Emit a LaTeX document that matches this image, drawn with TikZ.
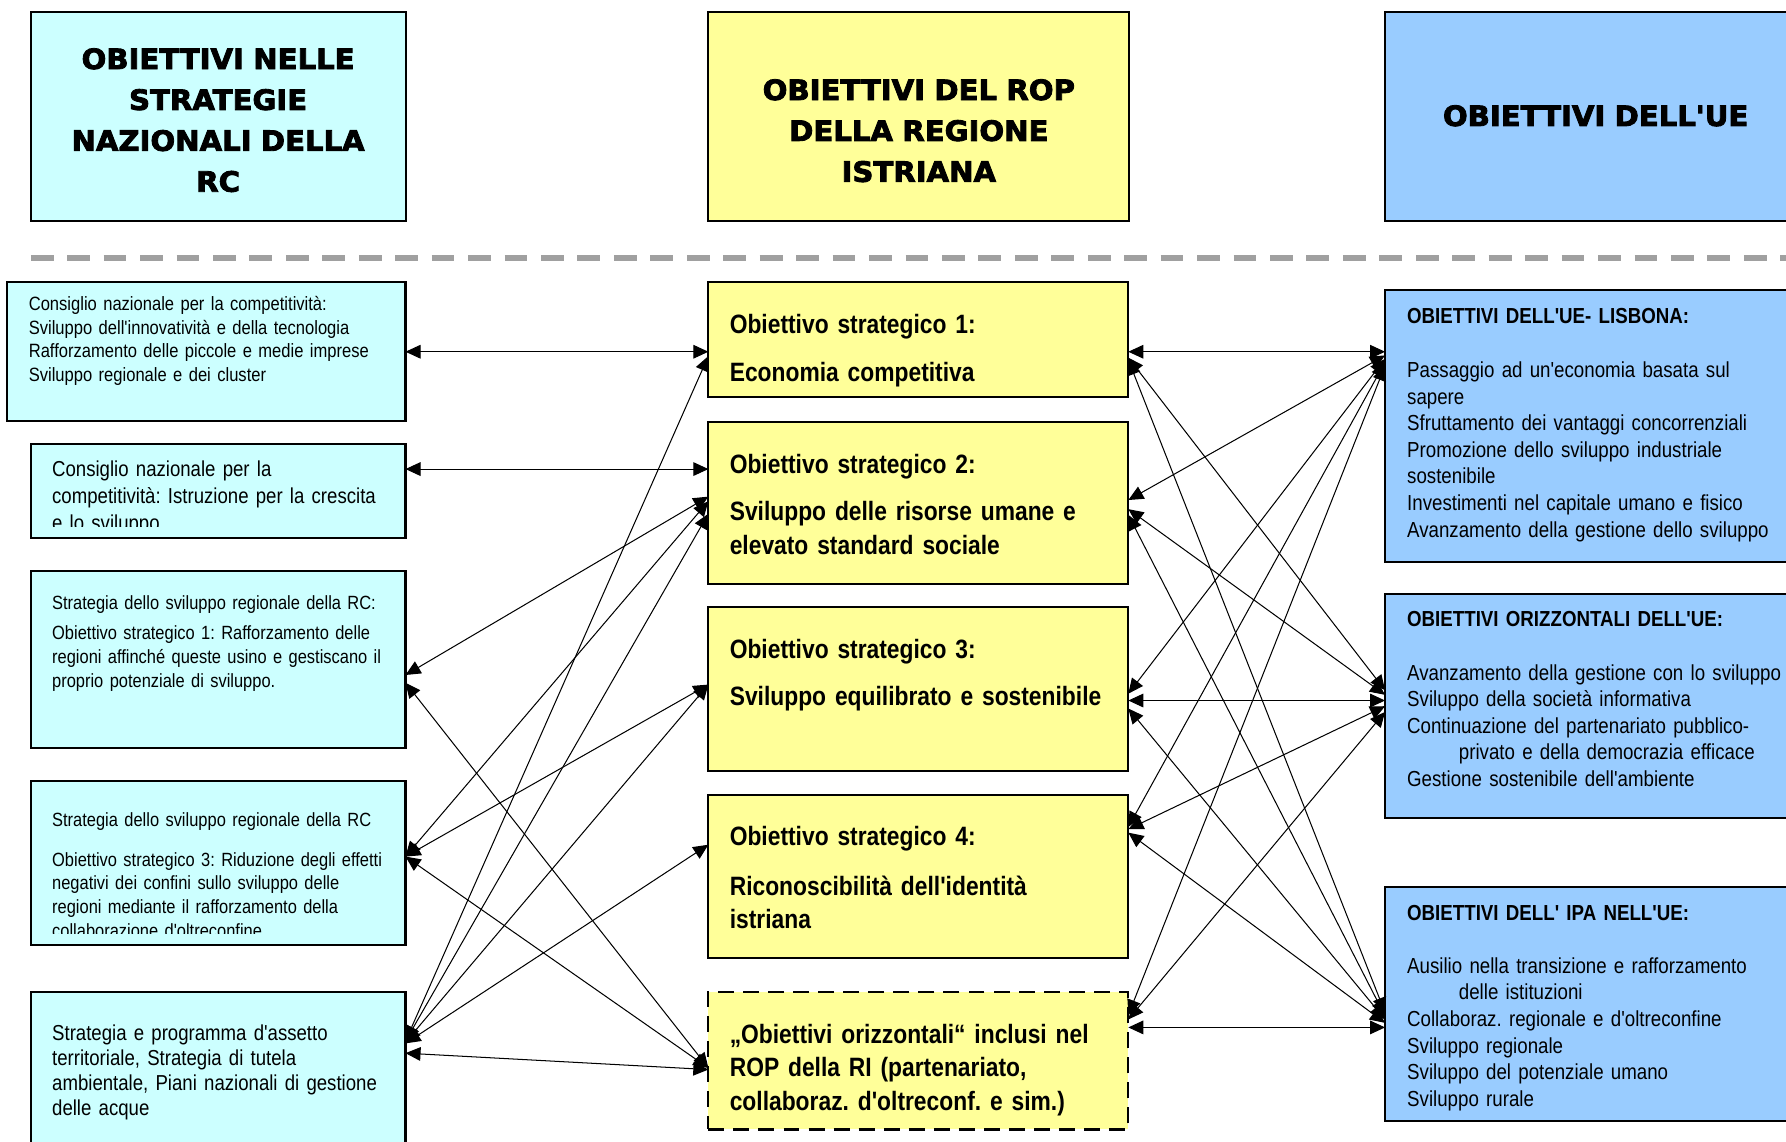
\documentclass[tikz,border=0pt]{standalone}
\usepackage{fontspec}
\usetikzlibrary{arrows.meta,fit}
\setmainfont{Liberation Sans}
\newfontfamily\hdrfont{DejaVu Sans Bold}[FakeBold=3,FakeStretch=1.04,Ligatures=TeXOff]
\newfontfamily\bodyfont{Liberation Sans}[FakeStretch=0.86,Ligatures=TeXOff]
\newfontfamily\bodybold{Liberation Sans Bold}[FakeStretch=0.86,Ligatures=TeXOff]
\definecolor{cyanfill}{HTML}{CCFFFF}
\definecolor{yellowfill}{HTML}{FFFF99}
\definecolor{bluefill}{HTML}{99CCFF}
\definecolor{rulegrey}{HTML}{A0A0A0}
\frenchspacing

\begin{document}
\begin{tikzpicture}[x=0.5pt,y=-0.5pt,
  frame/.style={draw=black,line width=0.9pt,inner sep=0pt,outer sep=0pt},
  cyanbox/.style={frame,fill=cyanfill},
  yellowbox/.style={frame,fill=yellowfill},
  bluebox/.style={frame,fill=bluefill},
  dashbox/.style={frame,fill=yellowfill,dash pattern=on 7pt off 4pt},
  hdrtext/.style={anchor=base,align=center,text width=175pt,inner sep=0pt,
    font=\fontsize{12.3}{17.95}\hdrfont},
  txt/.style={anchor=base west,align=left,inner sep=0pt,text width=#1},
  txt/.default=165pt,
  conn/.style={line width=0.45pt,
    {Triangle[length=6.6pt,width=6pt]}-{Triangle[length=6.6pt,width=6pt]}},
]
\useasboundingbox (0,0) rectangle (1568,1002);
\clip (0,0) rectangle (1568,1002);

% column headings
\node[cyanbox,fit={(27,10.2) (356.2,193.8)}] (H1) {};
\node[yellowbox,fit={(621.9,10.2) (991,193.8)}] (H2) {};
\node[bluebox,fit={(1216,10.2) (1610,193.8)}] (H3) {};
\node[hdrtext] (H1t) at (191.5,60.6) {OBIETTIVI NELLE\\STRATEGIE\\NAZIONALI DELLA\\RC};
\node[hdrtext] (H2t) at (806.7,87.8) {OBIETTIVI DEL ROP\\DELLA REGIONE\\ISTRIANA};
\node[hdrtext] (H3t) at (1400.9,110.6) {OBIETTIVI DELL'UE};

% separator
\coordinate (sepA) at (27,226.4);
\coordinate (sepB) at (1610,226.4);
\draw[rulegrey,line width=2.5pt,dash pattern=on 10pt off 6pt] (sepA) -- (sepB);

% national strategies
\node[cyanbox,fit={(6.5,247.5) (356,370)}] (L1) {};
\node[cyanbox,fit={(27,390) (356,472)}] (L2) {};
\node[cyanbox,fit={(27,501) (356,657)}] (L3) {};
\node[cyanbox,fit={(27,686) (356,830)}] (L4) {};
\node[cyanbox,fit={(27,871) (356,1030)}] (L5) {};

\node[txt,font=\fontsize{8.45}{10.3}\bodyfont] (L1t) at (24.9,272.8)
  {Consiglio nazionale per la competitività:\\Sviluppo dell'innovatività e della tecnologia\\Rafforzamento delle piccole e medie imprese\\Sviluppo regionale e dei cluster};
\begin{scope}
  \clip (27,390) rectangle (356,462.4);
  \node[txt,font=\fontsize{9.5}{11.7}\bodyfont] (L2t) at (45.4,418.5)
    {Consiglio nazionale per la\\competitività: Istruzione per la crescita\\e lo sviluppo};
\end{scope}
\node[txt,font=\fontsize{8.4}{10.5}\bodyfont] (L3t) at (45.4,535)
  {Strategia dello sviluppo regionale della RC:\\[2.65pt]Obiettivo strategico 1: Rafforzamento delle\\regioni affinché queste usino e gestiscano il\\proprio potenziale di sviluppo.};
\begin{scope}
  \clip (27,686) rectangle (356,819.5);
  \node[txt,font=\fontsize{8.4}{10.5}\bodyfont] (L4t) at (45.4,725.8)
    {Strategia dello sviluppo regionale della RC\\[6.75pt]Obiettivo strategico 3: Riduzione degli effetti\\negativi dei confini sullo sviluppo delle\\regioni mediante il rafforzamento della\\collaborazione d'oltreconfine};
\end{scope}
\node[txt,font=\fontsize{9.5}{10.95}\bodyfont] (L5t) at (45.4,913.7)
  {Strategia e programma d'assetto\\territoriale, Strategia di tutela\\ambientale, Piani nazionali di gestione\\delle acque};

% regional operational programme
\node[yellowbox,fit={(621.9,247.3) (990.6,348.8)}] (M1) {};
\node[yellowbox,fit={(621.9,370.2) (990.6,512.7)}] (M2) {};
\node[yellowbox,fit={(621.9,532.5) (990.6,677)}] (M3) {};
\node[yellowbox,fit={(621.9,697.8) (990.6,841)}] (M4) {};
\node[dashbox,fit={(621.9,870.6) (990.6,991.6)}] (M5) {};

\tikzset{midtext/.style={txt=175pt,font=\fontsize{11.65}{14.65}\bodybold}}
\node[midtext] (M1t) at (640.3,292.6) {Obiettivo strategico 1:\\[6.35pt]Economia competitiva};
\node[midtext] (M2t) at (640.3,415.6) {Obiettivo strategico 2:\\[6.1pt]Sviluppo delle risorse umane e\\elevato standard sociale};
\node[midtext] (M3t) at (640.3,578.2) {Obiettivo strategico 3:\\[6.15pt]Sviluppo equilibrato e sostenibile};
\node[midtext] (M4t) at (640.3,742.6) {Obiettivo strategico 4:\\[6.95pt]Riconoscibilità dell'identità\\istriana};
\node[midtext] (M5t) at (640.3,916) {„Obiettivi orizzontali“ inclusi nel\\ROP della RI (partenariato,\\collaboraz. d'oltreconf. e sim.)};

% EU objectives
\node[bluebox,fit={(1216,254.6) (1610,493.1)}] (R1) {};
\node[bluebox,fit={(1216,521.5) (1610,718)}] (R2) {};
\node[bluebox,fit={(1216,778.5) (1610,984)}] (R3) {};

\tikzset{eutext/.style={txt=180pt,font=\fontsize{9.55}{11.7}\bodyfont}}
\node[eutext] (R1t) at (1235,283.9)
  {{\bodybold OBIETTIVI DELL'UE- LISBONA:}\\[12pt]Passaggio ad un'economia basata sul\\sapere\\Sfruttamento dei vantaggi concorrenziali\\Promozione dello sviluppo industriale\\sostenibile\\Investimenti nel capitale umano e fisico\\Avanzamento della gestione dello sviluppo};
\node[eutext] (R2t) at (1235,550.2)
  {{\bodybold OBIETTIVI ORIZZONTALI DELL'UE:}\\[11.7pt]Avanzamento della gestione con lo sviluppo\\Sviluppo della società informativa\\Continuazione del partenariato pubblico-\\\hspace*{22.7pt}privato e della democrazia efficace\\Gestione sostenibile dell'ambiente};
\node[eutext] (R3t) at (1235,807.7)
  {{\bodybold OBIETTIVI DELL' IPA NELL'UE:}\\[11.7pt]Ausilio nella transizione e rafforzamento\\\hspace*{22.7pt}delle istituzioni\\Collaboraz. regionale e d'oltreconfine\\Sviluppo regionale\\Sviluppo del potenziale umano\\Sviluppo rurale};

% links: national strategies -- ROP objectives
\draw[conn] (L1.east |- 0,308.8) -- (M1.west |- 0,308.8);
\draw[conn] (L2.east |- 0,411.8) -- (M2.west |- 0,411.8);
\draw[conn] (L3.east |- 0,592.6) -- (M2.west |- 0,436);
\draw[conn] (L3.east |- 0,599.4) -- (M5.west |- 0,937.6);
\draw[conn] (L4.east |- 0,752) -- (M2.west |- 0,440);
\draw[conn] (L4.east |- 0,752) -- (M3.west |- 0,601);
\draw[conn] (L4.east |- 0,752) -- (M5.west |- 0,937.6);
\draw[conn] (L5.east |- 0,914) -- (M1.west |- 0,312.6);
\draw[conn] (L5.east |- 0,914) -- (M2.west |- 0,451);
\draw[conn] (L5.east |- 0,915) -- (M3.west |- 0,601);
\draw[conn] (L5.east |- 0,916) -- (M4.west |- 0,741.6);
\draw[conn] (L5.east |- 0,924.6) -- (M5.west |- 0,939);

% links: ROP objectives -- EU objectives
\draw[conn] (M1.east |- 0,308.8) -- (R1.west |- 0,308.8);
\draw[conn] (M1.east |- 0,314) -- (R2.west |- 0,606);
\draw[conn] (M1.east |- 0,316) -- (R3.west |- 0,889);
\draw[conn] (M2.east |- 0,439) -- (R1.west |- 0,312);
\draw[conn] (M2.east |- 0,447) -- (R2.west |- 0,610);
\draw[conn] (M2.east |- 0,452) -- (R3.west |- 0,892);
\draw[conn] (M3.east |- 0,609) -- (R1.west |- 0,315);
\draw[conn] (M3.east |- 0,615) -- (R2.west |- 0,615);
\draw[conn] (M3.east |- 0,622) -- (R3.west |- 0,895);
\draw[conn] (M4.east |- 0,726) -- (R1.west |- 0,318);
\draw[conn] (M4.east |- 0,728) -- (R2.west |- 0,620);
\draw[conn] (M4.east |- 0,731) -- (R3.west |- 0,898);
\draw[conn] (M5.east |- 0,891) -- (R1.west |- 0,321);
\draw[conn] (M5.east |- 0,895) -- (R2.west |- 0,625);
\draw[conn] (M5.east |- 0,902) -- (R3.west |- 0,902);
\end{tikzpicture}
\end{document}
